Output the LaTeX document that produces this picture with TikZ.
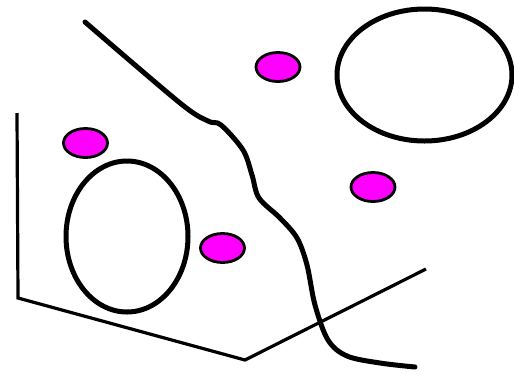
\documentclass[tikz,border=0pt]{standalone}
\definecolor{mag}{RGB}{255,0,255}
\begin{document}
\begin{tikzpicture}[x=1pt,y=-1pt,
  thickline/.style={line width=5pt,line cap=round,line join=round},
  thinline/.style={line width=3.2pt,line join=miter},
  blob/.style={draw=black,line width=2.8pt,fill=mag}]
\useasboundingbox (0,0) rectangle (514,373);
% thin polyline
\coordinate (p1) at (17,113);
\coordinate (p2) at (18,298);
\coordinate (p3) at (245,360);
\coordinate (p4) at (426,269);
\draw[thinline] (p1) -- (p2) -- (p3) -- (p4);
% thick curve
\draw[thickline] plot[smooth,tension=0.55] coordinates {(85,22) (180,103) (208,121) (221,125) (243,150) (252,175) (259,198) (280,218) (297,238) (307,265) (315,305) (328,340) (347,356) (380,363) (415,367)};
% big ellipses
\draw[thickline] (424.5,75) ellipse [x radius=87.5, y radius=66];
\draw[thickline] (127,236.5) ellipse [x radius=61, y radius=75.5];
% magenta blobs
\draw[blob] (278,67) ellipse [x radius=22, y radius=14.5];
\draw[blob] (85.5,143) ellipse [x radius=22, y radius=14.5];
\draw[blob] (373,187) ellipse [x radius=22, y radius=14.5];
\draw[blob] (222.5,248) ellipse [x radius=22, y radius=14.5];
\end{tikzpicture}
\end{document}
